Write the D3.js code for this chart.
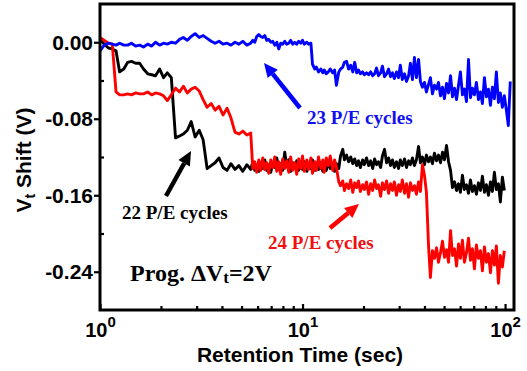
<!DOCTYPE html>
<html>
<head>
<meta charset="utf-8">
<script src="https://cdn.jsdelivr.net/npm/d3@7"></script>
<style>
  html, body { margin: 0; padding: 0; background: #fff; }
  svg { display: block; }
</style>
</head>
<body>
<svg id="chart" width="527" height="371"></svg>
<script>
// Retention time samples (sec), shared by the three measurements
const times = [
  1.00, 1.05, 1.10, 1.15, 1.20, 1.25, 1.31, 1.37, 1.43, 1.50,
  1.57, 1.64, 1.72, 1.80, 1.88, 1.97, 2.06, 2.15, 2.25, 2.36,
  2.47, 2.58, 2.70, 2.82, 2.95, 3.09, 3.23, 3.38, 3.54, 3.70,
  3.87, 4.05, 4.24, 4.43, 4.64, 4.85, 5.07, 5.31, 5.55, 5.68,
  5.81, 5.94, 6.08, 6.22, 6.36, 6.51, 6.66, 6.81, 6.97, 7.13,
  7.29, 7.46, 7.63, 7.80, 7.98, 8.17, 8.35, 8.55, 8.74, 8.94,
  9.15, 9.36, 9.57, 9.79, 10.0, 10.2, 10.5, 10.7, 11.0, 11.2,
  11.5, 11.7, 12.0, 12.3, 12.6, 12.8, 13.1, 13.4, 13.7, 14.1,
  14.4, 14.7, 15.1, 15.4, 15.8, 16.1, 16.5, 16.9, 17.3, 17.7,
  18.1, 18.5, 18.9, 19.3, 19.8, 20.2, 20.7, 21.2, 21.7, 22.2,
  22.7, 23.2, 23.7, 24.3, 24.8, 25.4, 26.0, 26.6, 27.2, 27.8,
  28.4, 29.1, 29.8, 30.4, 31.1, 31.9, 32.6, 33.4, 34.1, 34.9,
  35.7, 36.5, 37.4, 38.2, 39.1, 40.0, 40.9, 41.9, 42.8, 43.8,
  44.8, 45.9, 46.9, 48.0, 49.1, 50.2, 51.4, 52.6, 53.8, 55.0,
  56.3, 57.6, 58.9, 60.2, 61.6, 63.0, 64.5, 66.0, 67.5, 69.0,
  70.6, 72.2, 73.9, 75.6, 77.3, 79.1, 80.9, 82.8, 84.7, 86.6,
  88.6, 90.6, 92.7, 94.8, 97.0, 99.2, 101.5, 103.8, 106.1
];

// Vt shift (V) after 22 P/E cycles
const shift22 = [
  0.003, -0.002, -0.006, -0.007, -0.009, -0.031, -0.028, -0.021, -0.020, -0.022,
  -0.022, -0.028, -0.033, -0.034, -0.035, -0.028, -0.037, -0.032, -0.037, -0.100,
  -0.098, -0.096, -0.092, -0.083, -0.099, -0.092, -0.102, -0.132, -0.129, -0.126,
  -0.121, -0.131, -0.134, -0.127, -0.133, -0.129, -0.135, -0.128, -0.133, -0.125,
  -0.134, -0.129, -0.135, -0.126, -0.132, -0.123, -0.134, -0.128, -0.136, -0.126,
  -0.131, -0.121, -0.133, -0.127, -0.134, -0.115, -0.129, -0.123, -0.135, -0.126,
  -0.132, -0.124, -0.134, -0.128, -0.133, -0.125, -0.135, -0.127, -0.132, -0.123,
  -0.134, -0.128, -0.133, -0.126, -0.135, -0.129, -0.134, -0.125, -0.132, -0.128,
  -0.135, -0.127, -0.132, -0.119, -0.112, -0.123, -0.118, -0.125, -0.120, -0.127,
  -0.122, -0.129, -0.124, -0.131, -0.123, -0.128, -0.121, -0.129, -0.124, -0.132,
  -0.122, -0.128, -0.125, -0.131, -0.119, -0.112, -0.126, -0.121, -0.129, -0.123,
  -0.131, -0.125, -0.132, -0.123, -0.129, -0.122, -0.131, -0.124, -0.128, -0.121,
  -0.129, -0.123, -0.109, -0.126, -0.120, -0.128, -0.118, -0.125, -0.120, -0.127,
  -0.116, -0.124, -0.118, -0.126, -0.115, -0.123, -0.108, -0.125, -0.134, -0.152,
  -0.146, -0.155, -0.148, -0.157, -0.139, -0.154, -0.149, -0.158, -0.144, -0.156,
  -0.150, -0.159, -0.147, -0.155, -0.140, -0.157, -0.149, -0.160, -0.146, -0.156,
  -0.136, -0.154, -0.148, -0.167, -0.141, -0.155
];

// Vt shift (V) after 23 P/E cycles
const shift23 = [
  -0.009, -0.003, -0.001, -0.002, -0.003, -0.001, -0.003, -0.003, -0.001, -0.004,
  -0.003, -0.005, -0.002, -0.004, 0.000, -0.003, -0.001, -0.002, 0.000, -0.001,
  0.003, 0.005, 0.002, 0.006, 0.009, 0.005, 0.007, 0.004, 0.001, -0.001,
  0.001, -0.002, -0.001, -0.003, 0.000, -0.002, 0.001, -0.003, -0.001, 0.002,
  0.000, 0.006, 0.008, 0.006, 0.005, 0.007, 0.002, 0.003, 0.000, 0.001,
  -0.003, 0.000, -0.007, -0.001, -0.002, 0.001, -0.002, -0.001, 0.002, -0.002,
  0.000, -0.002, 0.001, -0.001, 0.002, -0.002, 0.000, -0.002, -0.001, -0.023,
  -0.028, -0.026, -0.031, -0.028, -0.032, -0.029, -0.033, -0.031, -0.028, -0.032,
  -0.029, -0.045, -0.031, -0.028, -0.026, -0.021, -0.020, -0.028, -0.024, -0.031,
  -0.021, -0.032, -0.029, -0.033, -0.031, -0.034, -0.032, -0.034, -0.031, -0.035,
  -0.033, -0.027, -0.035, -0.032, -0.025, -0.036, -0.033, -0.028, -0.036, -0.032,
  -0.038, -0.031, -0.037, -0.024, -0.039, -0.033, -0.041, -0.035, -0.022, -0.039,
  -0.016, -0.037, -0.018, -0.041, -0.047, -0.042, -0.052, -0.044, -0.037, -0.054,
  -0.045, -0.049, -0.042, -0.056, -0.047, -0.059, -0.043, -0.053, -0.035, -0.057,
  -0.048, -0.060, -0.045, -0.031, -0.055, -0.049, -0.062, -0.018, -0.058, -0.048,
  -0.055, -0.042, -0.060, -0.052, -0.064, -0.037, -0.057, -0.049, -0.066, -0.047,
  -0.059, -0.031, -0.063, -0.053, -0.068, -0.056, -0.071, -0.087, -0.041
];

// Vt shift (V) after 24 P/E cycles
const shift24 = [
  0.005, 0.002, -0.001, -0.002, -0.052, -0.055, -0.055, -0.054, -0.055, -0.053,
  -0.054, -0.054, -0.052, -0.055, -0.053, -0.054, -0.056, -0.061, -0.055, -0.048,
  -0.052, -0.046, -0.053, -0.049, -0.047, -0.051, -0.060, -0.068, -0.064, -0.071,
  -0.067, -0.076, -0.069, -0.079, -0.094, -0.096, -0.093, -0.097, -0.095, -0.132,
  -0.125, -0.136, -0.123, -0.134, -0.121, -0.133, -0.126, -0.137, -0.123, -0.131,
  -0.120, -0.135, -0.125, -0.138, -0.122, -0.132, -0.124, -0.136, -0.120, -0.134,
  -0.126, -0.138, -0.122, -0.132, -0.119, -0.135, -0.123, -0.133, -0.121, -0.137,
  -0.125, -0.134, -0.120, -0.132, -0.123, -0.136, -0.121, -0.129, -0.119, -0.134,
  -0.123, -0.131, -0.146, -0.150, -0.145, -0.155, -0.148, -0.153, -0.144, -0.157,
  -0.147, -0.152, -0.145, -0.156, -0.149, -0.154, -0.146, -0.159, -0.148, -0.155,
  -0.144, -0.153, -0.149, -0.161, -0.147, -0.154, -0.145, -0.158, -0.148, -0.155,
  -0.146, -0.160, -0.149, -0.156, -0.144, -0.158, -0.148, -0.162, -0.147, -0.155,
  -0.150, -0.159, -0.146, -0.156, -0.128, -0.139, -0.157, -0.213, -0.246, -0.218,
  -0.226, -0.215, -0.230, -0.220, -0.208, -0.225, -0.217, -0.230, -0.197, -0.223,
  -0.216, -0.234, -0.211, -0.226, -0.207, -0.230, -0.220, -0.205, -0.228, -0.216,
  -0.237, -0.212, -0.226, -0.218, -0.239, -0.214, -0.230, -0.221, -0.241, -0.218,
  -0.233, -0.213, -0.252, -0.223, -0.235, -0.218
];

// Axis ticks
const yTickValues = [0, -0.08, -0.16, -0.24];
const yTickLabels = ["0.00", "-0.08", "-0.16", "-0.24"];
const yMinorTicks = [-0.04, -0.12, -0.20];
const xTickValues = [1, 10, 100];
const xTickExponents = ["0", "1", "2"];
const xMinorTicks = [2, 3, 4, 5, 6, 7, 8, 9, 20, 30, 40, 50, 60, 70, 80, 90];

const SANS = "'Liberation Sans', Arial, Helvetica, sans-serif";
const SERIF = "'Liberation Serif', 'Times New Roman', Times, serif";

const plot = { left: 100, right: 514, top: 4, bottom: 310 };

const x = d3.scaleLog().domain([1, 110.7]).range([plot.left, plot.right]);
const y = d3.scaleLinear().domain([-0.28, 0.04]).range([plot.bottom, plot.top]);

const svg = d3.select("#chart");

svg.append("defs").append("clipPath").attr("id", "plot-clip")
  .append("rect")
  .attr("x", plot.left).attr("y", plot.top)
  .attr("width", plot.right - plot.left).attr("height", plot.bottom - plot.top);

// Traces: 22 cycles first, 24 over it, 23 on top
const series = [
  { values: shift22, color: "#000000" },
  { values: shift24, color: "#ff0000" },
  { values: shift23, color: "#0000ff" }
];

const line = d3.line().x(d => x(d[0])).y(d => y(d[1]));

const traces = svg.append("g").attr("clip-path", "url(#plot-clip)");
series.forEach(s => {
  traces.append("path")
    .datum(s.values.map((v, i) => [times[i], v]))
    .attr("d", line)
    .attr("fill", "none")
    .attr("stroke", s.color)
    .attr("stroke-width", 2.9)
    .attr("stroke-linejoin", "round");
});

// Y axis: major ticks outside, minor ticks inside
const yAxis = svg.append("g")
  .attr("transform", `translate(${plot.left},0)`)
  .call(d3.axisLeft(y).tickValues(yTickValues).tickSize(6).tickPadding(1)
    .tickFormat((d, i) => yTickLabels[i]));
yAxis.select(".domain").remove();
yAxis.selectAll(".tick line").attr("stroke-width", 2.2);
yAxis.selectAll(".tick text")
  .attr("font-family", SANS).attr("font-weight", "bold").attr("font-size", 21)
  .attr("fill", "#000").attr("dy", "0.34em");

const yMinor = svg.append("g")
  .attr("transform", `translate(${plot.left},0)`)
  .call(d3.axisLeft(y).tickValues(yMinorTicks).tickSize(-4).tickFormat(""));
yMinor.select(".domain").remove();
yMinor.selectAll(".tick line").attr("stroke-width", 2.2);

// X axis: ticks inside
const xAxis = svg.append("g")
  .attr("transform", `translate(0,${plot.bottom})`)
  .call(d3.axisBottom(x).tickValues(xTickValues).tickSize(-6).tickFormat(""));
xAxis.select(".domain").remove();
xAxis.selectAll(".tick line").attr("stroke-width", 2.2);
xAxis.selectAll(".tick text")
  .attr("y", 27).attr("dy", null)
  .attr("text-anchor", "middle")
  .attr("font-family", SANS).attr("font-weight", "bold").attr("fill", "#000")
  .each(function(d, i) {
    const t = d3.select(this);
    t.append("tspan").attr("font-size", 20).text("10");
    t.append("tspan").attr("font-size", 15).attr("dy", -10).text(xTickExponents[i]);
  });

const xMinor = svg.append("g")
  .attr("transform", `translate(0,${plot.bottom})`)
  .call(d3.axisBottom(x).tickValues(xMinorTicks).tickSize(-4).tickFormat(""));
xMinor.select(".domain").remove();
xMinor.selectAll(".tick line").attr("stroke-width", 2.2);

// Frame
svg.append("rect")
  .attr("x", plot.left).attr("y", plot.top)
  .attr("width", plot.right - plot.left).attr("height", plot.bottom - plot.top)
  .attr("fill", "none").attr("stroke", "#000").attr("stroke-width", 3);

// Axis titles
svg.append("text")
  .attr("x", (plot.left + plot.right) / 2 - 7).attr("y", 362)
  .attr("text-anchor", "middle")
  .attr("font-family", SANS).attr("font-weight", "bold").attr("font-size", 21)
  .text("Retention Time (sec)");

const yTitle = svg.append("text")
  .attr("transform", "translate(31,160) rotate(-90)")
  .attr("text-anchor", "middle")
  .attr("font-family", SANS).attr("font-weight", "bold").attr("font-size", 21);
yTitle.append("tspan").text("V");
yTitle.append("tspan").attr("font-size", 14).attr("dy", 4).text("t");
yTitle.append("tspan").attr("dy", -4).text(" Shift (V)");

// Arrows pointing at each trace
function arrow(x1, y1, x2, y2, color) {
  const ang = Math.atan2(y2 - y1, x2 - x1);
  const headLen = 14, headHalf = 6.5;
  const bx = x2 - headLen * Math.cos(ang), by = y2 - headLen * Math.sin(ang);
  svg.append("line")
    .attr("x1", x1).attr("y1", y1).attr("x2", bx).attr("y2", by)
    .attr("stroke", color).attr("stroke-width", 4.5);
  const px = -Math.sin(ang) * headHalf, py = Math.cos(ang) * headHalf;
  svg.append("polygon")
    .attr("points", [[x2, y2], [bx + px, by + py], [bx - px, by - py]].map(p => p.join(",")).join(" "))
    .attr("fill", color);
}
arrow(300, 108, 264, 63, "#0000ff");
arrow(166, 196, 191, 151, "#000000");
arrow(330, 228, 359, 204, "#ff0000");

// Annotations
function note(xp, yp, color, text) {
  svg.append("text")
    .attr("x", xp).attr("y", yp)
    .attr("font-family", SERIF).attr("font-weight", "bold").attr("font-size", 19)
    .attr("fill", color).text(text);
}
note(307, 124, "#1010f0", "23 P/E cycles");
note(122, 219, "#000000", "22 P/E cycles");
note(268, 249, "#f01010", "24 P/E cycles");

const prog = svg.append("text")
  .attr("x", 130).attr("y", 281)
  .attr("font-family", SERIF).attr("font-weight", "bold").attr("font-size", 24)
  .attr("fill", "#000");
prog.append("tspan").text("Prog. \u0394V");
prog.append("tspan").attr("font-size", 17).attr("dy", 2).text("t");
prog.append("tspan").attr("dy", -2).text("=2V");
</script>
</body>
</html>
